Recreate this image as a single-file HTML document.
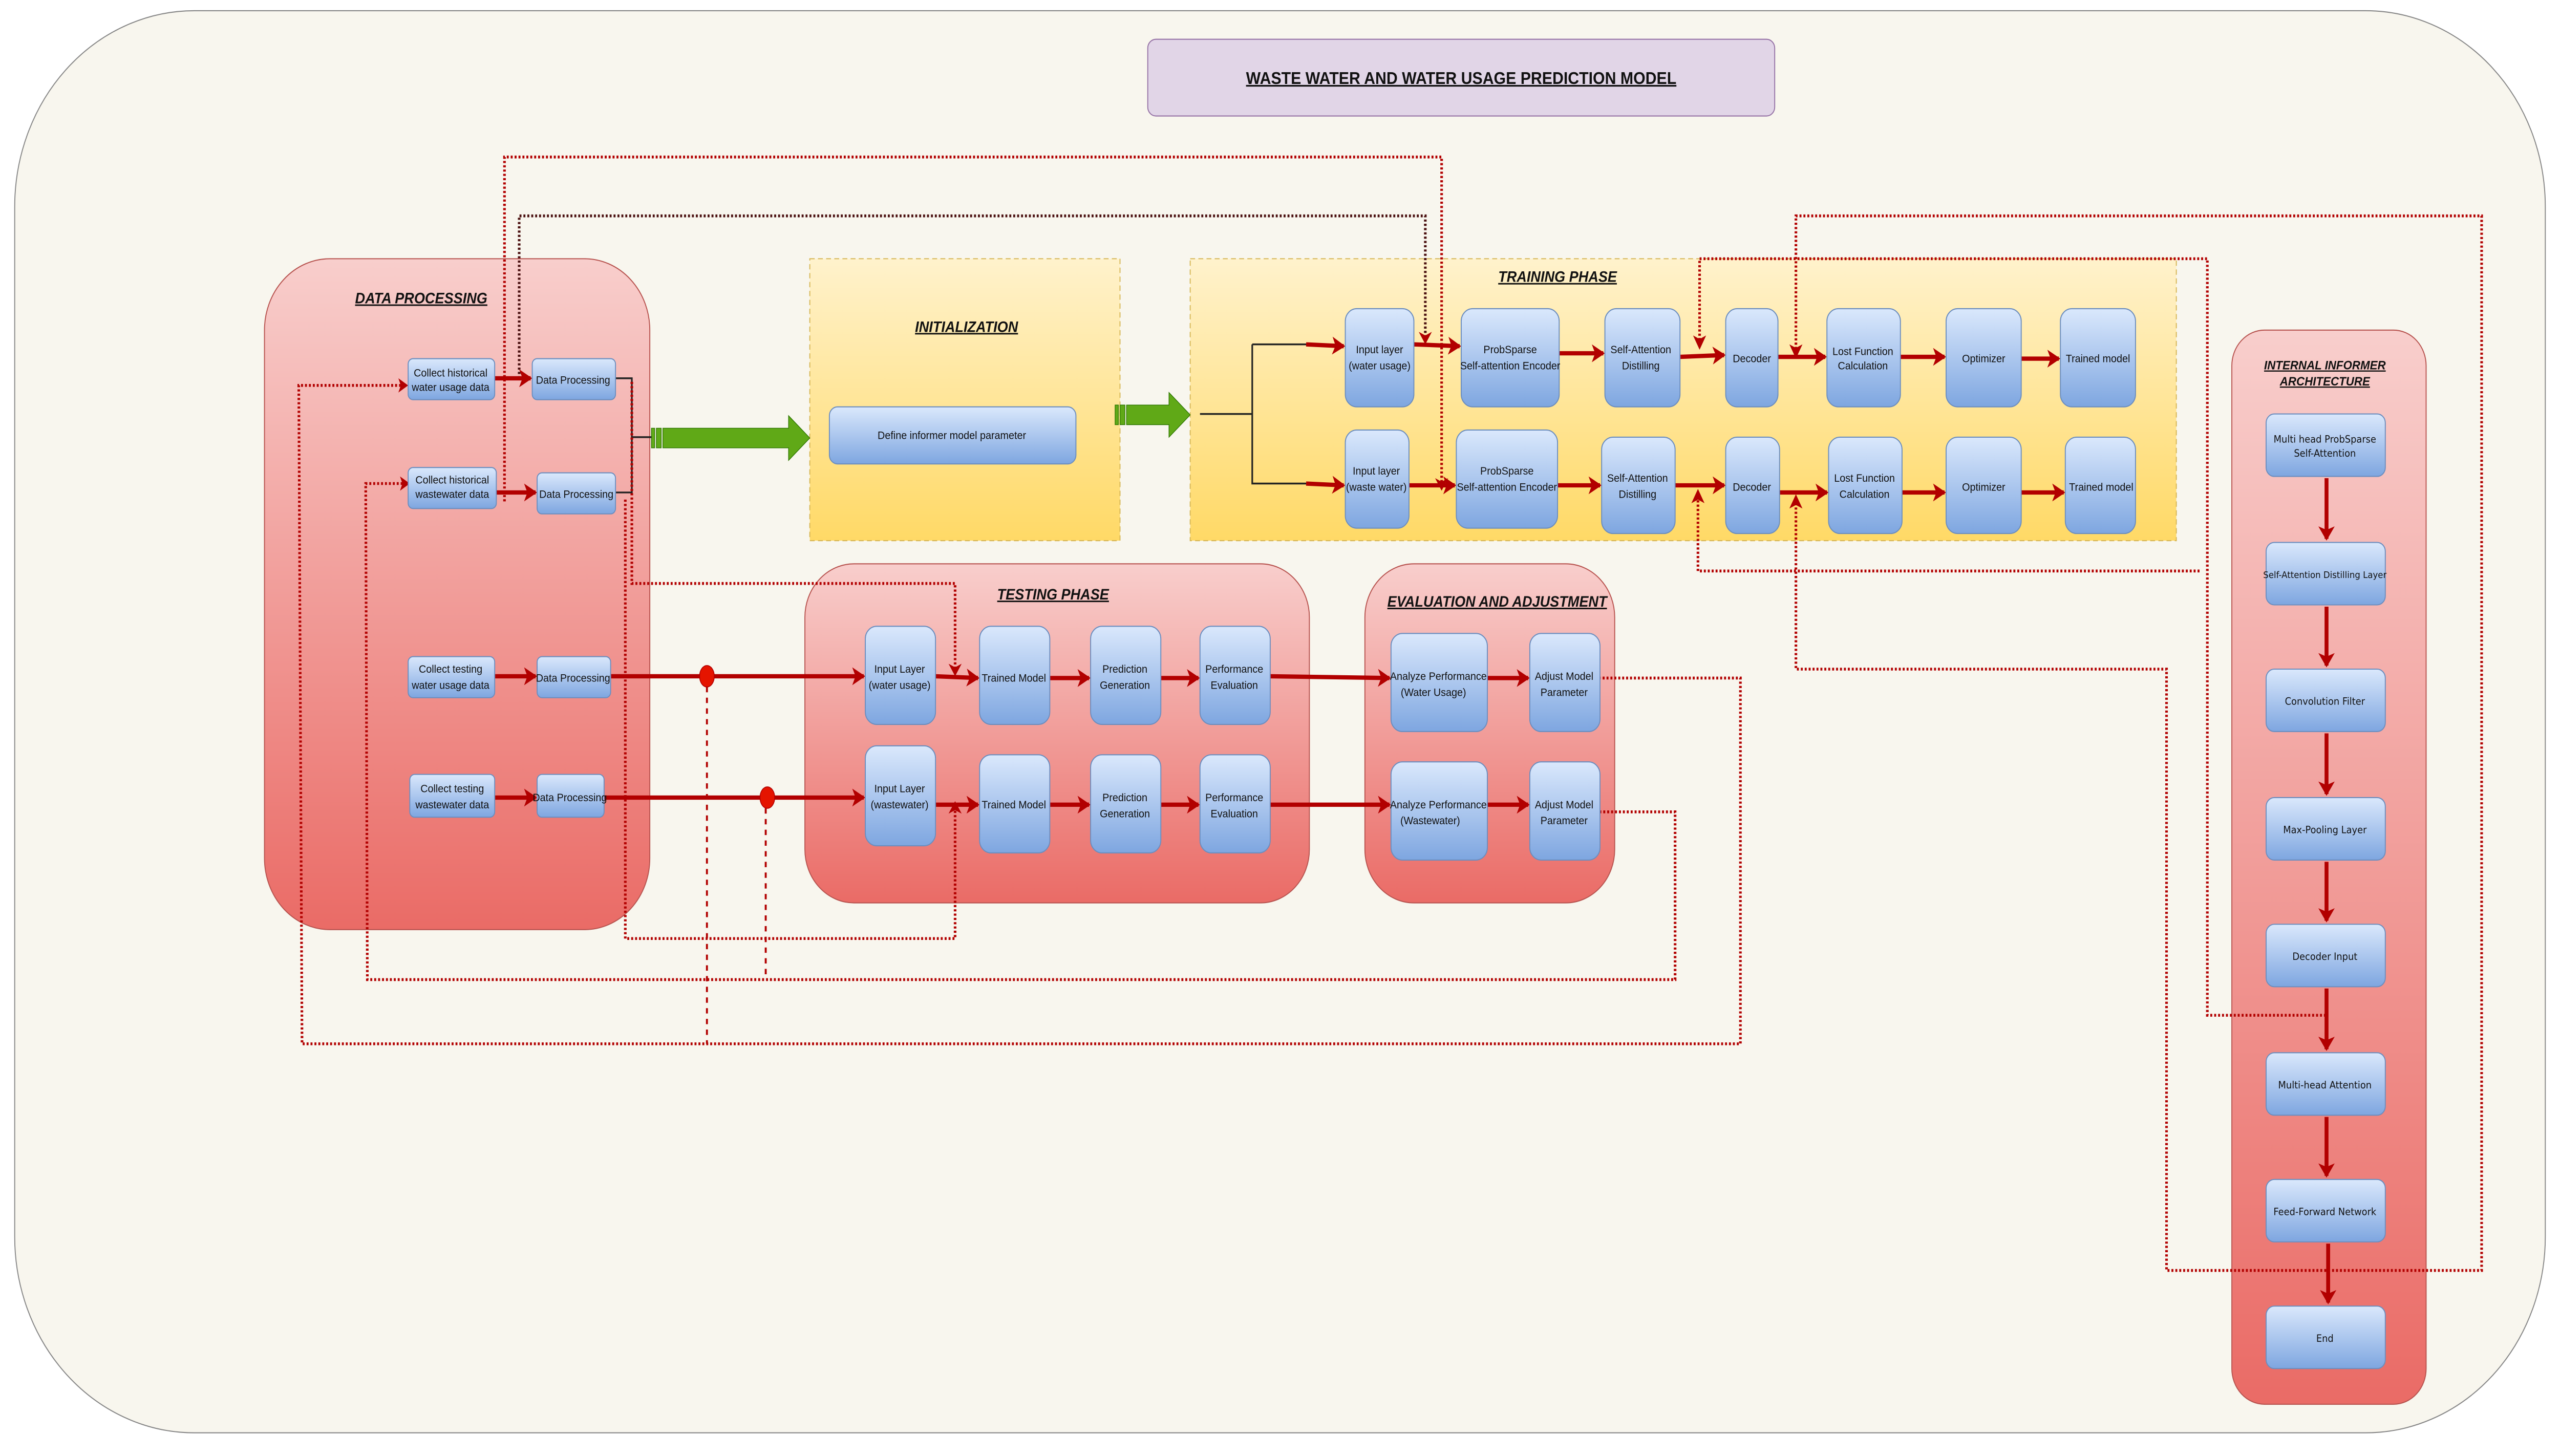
<!DOCTYPE html>
<html><head><meta charset="utf-8"><style>
html,body{margin:0;padding:0;background:#fff;width:100vw;height:100vh;overflow:hidden;}
svg{display:block;width:100vw;height:100vh;}
text{font-family:"Liberation Sans Narrow","Liberation Sans",sans-serif;fill:#111;}
.t{font-size:6.2px;text-anchor:middle;}
.h{font-size:8.5px;font-weight:bold;font-style:italic;text-decoration:underline;text-anchor:middle;}
.v{font-family:"DejaVu Sans",sans-serif;font-size:5.6px;text-anchor:middle;}
.n{fill:url(#gb);stroke:#6c8ebf;stroke-width:0.6;}
.ar{stroke:#b20000;stroke-width:2.4;fill:none;}
.d{stroke:#b20000;stroke-width:1.6;fill:none;stroke-dasharray:1.2 1.2;}
.dl{stroke:#b20000;stroke-width:1.2;fill:none;stroke-dasharray:3 3;}
</style></head><body>
<svg viewBox="0 0 1568 816" preserveAspectRatio="none" xmlns="http://www.w3.org/2000/svg">
<defs>
<linearGradient id="gb" x1="0" y1="0" x2="0" y2="1"><stop offset="0" stop-color="#dae8fc"/><stop offset="1" stop-color="#7ea6e0"/></linearGradient>
<linearGradient id="gr" x1="0" y1="0" x2="0" y2="1"><stop offset="0" stop-color="#f8cecc"/><stop offset="1" stop-color="#ea6b66"/></linearGradient>
<linearGradient id="gy" x1="0" y1="0" x2="0" y2="1"><stop offset="0" stop-color="#fff2cc"/><stop offset="1" stop-color="#ffd966"/></linearGradient>
<marker id="m" markerUnits="userSpaceOnUse" markerWidth="10" markerHeight="10" refX="7" refY="5" orient="auto"><path d="M0,0 L8,5 L0,10 L2,5 Z" fill="#b20000"/></marker>
</defs>
<rect x="0" y="0" width="1568" height="816" fill="#ffffff"/>
<rect x="9" y="6" width="1550" height="797" rx="110" fill="#f8f6ee" stroke="#888" stroke-width="0.6"/>
<rect x="703" y="22" width="384" height="43" rx="5" fill="#e1d5e7" stroke="#9673a6" stroke-width="0.6"/>
<text class="h" x="895" y="47" style="font-style:normal;font-size:9.5px">WASTE WATER AND WATER USAGE PREDICTION MODEL</text>

<rect x="162" y="145" width="236" height="376" rx="40" fill="url(#gr)" stroke="#b85450" stroke-width="0.6"/>
<text class="h" x="258" y="170">DATA PROCESSING</text>
<rect x="496" y="145" width="190" height="158" fill="url(#gy)" stroke="#d6b656" stroke-width="0.6" stroke-dasharray="3 2"/>
<text class="h" x="592" y="186">INITIALIZATION</text>
<rect x="729" y="145" width="604" height="158" fill="url(#gy)" stroke="#d6b656" stroke-width="0.6" stroke-dasharray="3 2"/>
<text class="h" x="954" y="158">TRAINING PHASE</text>
<rect x="493" y="316" width="309" height="190" rx="30" fill="url(#gr)" stroke="#b85450" stroke-width="0.6"/>
<text class="h" x="645" y="336">TESTING PHASE</text>
<rect x="836" y="316" width="153" height="190" rx="30" fill="url(#gr)" stroke="#b85450" stroke-width="0.6"/>
<text class="h" x="917" y="340">EVALUATION AND ADJUSTMENT</text>
<rect x="1367" y="185" width="119" height="602" rx="20" fill="url(#gr)" stroke="#b85450" stroke-width="0.6"/>
<text class="h" x="1424" y="207" style="font-size:7px">INTERNAL INFORMER</text>
<text class="h" x="1424" y="216" style="font-size:7px">ARCHITECTURE</text>

<g fill="#60a917" stroke="#2d7600" stroke-width="0.4">
<rect x="399" y="240" width="2" height="11"/><rect x="402" y="240" width="3" height="11"/>
<path d="M406,240 L483,240 L483,233 L496,245.5 L483,258 L483,251 L406,251 Z"/>
<rect x="683" y="227" width="2" height="11"/><rect x="686" y="227" width="3" height="11"/>
<path d="M690,227 L716,227 L716,220 L729,232.5 L716,245 L716,238 L690,238 Z"/>
</g>

<path d="M377,212 L387,212 L387,276 L377,276 M387,245 L399,245" stroke="#222" stroke-width="1" fill="none"/>
<path d="M735,232 L767,232 M767,193 L767,271 L800,271 M767,193 L800,193" stroke="#222" stroke-width="1" fill="none"/>

<path class="d" d="M309,281 L309,88 L883,88 L883,272"/>
<path class="d" d="M318,212 L318,121 L873,121 L873,190" style="stroke:#4a1010"/>
<path class="d" d="M1100,198 L1100,121 L1520,121 L1520,712 L1327,712 L1327,375 L1100,375 L1100,282"/>
<path class="d" d="M1041,193 L1041,145 L1352,145 L1352,569 L1424,569"/>
<path class="d" d="M1040,278 L1040,320 L1348,320"/>
<path class="d" d="M387,214 L387,327 L585,327 L585,376"/>
<path class="d" d="M383,280 L383,526 L585,526 L585,452"/>
<path class="d" d="M248,216 L183,216 L185,585 L1066,585 L1066,380 L980,380"/>
<path class="d" d="M249,271 L224,271 L225,549 L1026,549 L1026,455 L980,455"/>
<path class="dl" d="M433,379 L433,585"/>
<path class="dl" d="M469,447 L469,546"/>
<g fill="#b20000">
<path d="M250,216 L244,212 L245.5,216 L244,220 Z"/>
<path d="M251,271 L245,267 L246.5,271 L245,275 Z"/>
<path d="M873,193 L869,186 L873,188 L877,186 Z"/>
<path d="M883,275 L879,268 L883,270 L887,268 Z"/>
<path d="M1041,196 L1037,188 L1041,190 L1045,188 Z"/>
<path d="M1100,201 L1096,193 L1100,195 L1104,193 Z"/>
<path d="M1040,274 L1036,282 L1040,280 L1044,282 Z"/>
<path d="M1100,277 L1096,285 L1100,283 L1104,285 Z"/>
<path d="M585,379 L581,372 L585,374 L589,372 Z"/>
<path d="M585,449 L581,456 L585,454 L589,456 Z"/>
</g>

<g class="ar" marker-end="url(#m)">
<path d="M303,212 L325,212"/><path d="M304,276 L328,276"/>
<path d="M303,379 L328,379"/><path d="M303,447 L328,447"/>
<path d="M374,379 L529,379"/><path d="M370,447 L529,447"/>
<path d="M800,193 L823,194"/><path d="M800,271 L823,272"/>
<path d="M866,193 L894,194"/><path d="M955,198 L982,198"/><path d="M1029,200 L1056,199"/><path d="M1089,200 L1118,200"/><path d="M1164,200 L1191,200"/><path d="M1238,201 L1261,201"/>
<path d="M863,272 L891,272"/><path d="M954,272 L980,272"/><path d="M1026,272 L1056,272"/><path d="M1090,276 L1119,276"/><path d="M1165,276 L1191,276"/><path d="M1238,276 L1264,276"/>
<path d="M573,379 L599,380"/><path d="M643,380 L667,380"/><path d="M711,380 L734,380"/><path d="M778,379 L851,380"/><path d="M911,380 L936,380"/>
<path d="M573,451 L599,451"/><path d="M643,451 L667,451"/><path d="M711,451 L734,451"/><path d="M778,451 L851,451"/><path d="M911,451 L936,451"/>
<path d="M1425,268 L1425,302"/><path d="M1425,340 L1425,373"/><path d="M1425,411 L1425,445"/><path d="M1425,483 L1425,516"/><path d="M1425,554 L1425,588"/><path d="M1425,626 L1425,659"/><path d="M1426,697 L1426,730"/>
</g>
<ellipse cx="433" cy="379" rx="4.5" ry="6" fill="#e51400" stroke="#b20000" stroke-width="0.5"/>
<ellipse cx="470" cy="447" rx="4.5" ry="6" fill="#e51400" stroke="#b20000" stroke-width="0.5"/>

<rect class="n" x="250" y="201" width="53" height="23" rx="3"/><text class="t" x="276" y="211">Collect historical</text><text class="t" x="276" y="219">water usage data</text>
<rect class="n" x="326" y="201" width="51" height="23" rx="3"/><text class="t" x="351" y="215">Data Processing</text>
<rect class="n" x="250" y="262" width="54" height="23" rx="3"/><text class="t" x="277" y="271">Collect historical</text><text class="t" x="277" y="279">wastewater data</text>
<rect class="n" x="329" y="265" width="48" height="23" rx="3"/><text class="t" x="353" y="279">Data Processing</text>
<rect class="n" x="250" y="368" width="53" height="23" rx="3"/><text class="t" x="276" y="377">Collect testing</text><text class="t" x="276" y="386">water usage data</text>
<rect class="n" x="329" y="368" width="45" height="23" rx="3"/><text class="t" x="351" y="382">Data Processing</text>
<rect class="n" x="251" y="434" width="52" height="24" rx="3"/><text class="t" x="277" y="444">Collect testing</text><text class="t" x="277" y="453">wastewater data</text>
<rect class="n" x="329" y="434" width="41" height="24" rx="3"/><text class="t" x="349" y="449">Data Processing</text>
<rect class="n" x="508" y="228" width="151" height="32" rx="5"/><text class="t" x="583" y="246">Define informer model parameter</text>

<rect class="n" x="824" y="173" width="42" height="55" rx="7"/><text class="t" x="845" y="198">Input layer</text><text class="t" x="845" y="207">(water usage)</text>
<rect class="n" x="895" y="173" width="60" height="55" rx="7"/><text class="t" x="925" y="198">ProbSparse</text><text class="t" x="925" y="207">Self-attention Encoder</text>
<rect class="n" x="983" y="173" width="46" height="55" rx="7"/><text class="t" x="1005" y="198">Self-Attention</text><text class="t" x="1005" y="207">Distilling</text>
<rect class="n" x="1057" y="173" width="32" height="55" rx="7"/><text class="t" x="1073" y="203">Decoder</text>
<rect class="n" x="1119" y="173" width="45" height="55" rx="7"/><text class="t" x="1141" y="199">Lost Function</text><text class="t" x="1141" y="207">Calculation</text>
<rect class="n" x="1192" y="173" width="46" height="55" rx="7"/><text class="t" x="1215" y="203">Optimizer</text>
<rect class="n" x="1262" y="173" width="46" height="55" rx="7"/><text class="t" x="1285" y="203">Trained model</text>
<rect class="n" x="824" y="241" width="39" height="55" rx="7"/><text class="t" x="843" y="266">Input layer</text><text class="t" x="843" y="275">(waste water)</text>
<rect class="n" x="892" y="241" width="62" height="55" rx="7"/><text class="t" x="923" y="266">ProbSparse</text><text class="t" x="923" y="275">Self-attention Encoder</text>
<rect class="n" x="981" y="245" width="45" height="54" rx="7"/><text class="t" x="1003" y="270">Self-Attention</text><text class="t" x="1003" y="279">Distilling</text>
<rect class="n" x="1057" y="245" width="33" height="54" rx="7"/><text class="t" x="1073" y="275">Decoder</text>
<rect class="n" x="1120" y="245" width="45" height="54" rx="7"/><text class="t" x="1142" y="270">Lost Function</text><text class="t" x="1142" y="279">Calculation</text>
<rect class="n" x="1192" y="245" width="46" height="54" rx="7"/><text class="t" x="1215" y="275">Optimizer</text>
<rect class="n" x="1265" y="245" width="43" height="54" rx="7"/><text class="t" x="1287" y="275">Trained model</text>

<rect class="n" x="530" y="351" width="43" height="55" rx="7"/><text class="t" x="551" y="377">Input Layer</text><text class="t" x="551" y="386">(water usage)</text>
<rect class="n" x="600" y="351" width="43" height="55" rx="7"/><text class="t" x="621" y="382">Trained Model</text>
<rect class="n" x="668" y="351" width="43" height="55" rx="7"/><text class="t" x="689" y="377">Prediction</text><text class="t" x="689" y="386">Generation</text>
<rect class="n" x="735" y="351" width="43" height="55" rx="7"/><text class="t" x="756" y="377">Performance</text><text class="t" x="756" y="386">Evaluation</text>
<rect class="n" x="530" y="418" width="43" height="56" rx="7"/><text class="t" x="551" y="444">Input Layer</text><text class="t" x="551" y="453">(wastewater)</text>
<rect class="n" x="600" y="423" width="43" height="55" rx="7"/><text class="t" x="621" y="453">Trained Model</text>
<rect class="n" x="668" y="423" width="43" height="55" rx="7"/><text class="t" x="689" y="449">Prediction</text><text class="t" x="689" y="458">Generation</text>
<rect class="n" x="735" y="423" width="43" height="55" rx="7"/><text class="t" x="756" y="449">Performance</text><text class="t" x="756" y="458">Evaluation</text>

<rect class="n" x="852" y="355" width="59" height="55" rx="7"/><text class="t" x="881" y="381">Analyze Performance</text><text class="t" x="878" y="390">(Water Usage)</text>
<rect class="n" x="937" y="355" width="43" height="55" rx="7"/><text class="t" x="958" y="381">Adjust Model</text><text class="t" x="958" y="390">Parameter</text>
<rect class="n" x="852" y="427" width="59" height="55" rx="7"/><text class="t" x="881" y="453">Analyze Performance</text><text class="t" x="876" y="462">(Wastewater)</text>
<rect class="n" x="937" y="427" width="43" height="55" rx="7"/><text class="t" x="958" y="453">Adjust Model</text><text class="t" x="958" y="462">Parameter</text>

<rect class="n" x="1388" y="232" width="73" height="35" rx="5"/><text class="v" x="1424" y="248">Multi head ProbSparse</text><text class="v" x="1424" y="256">Self-Attention</text>
<rect class="n" x="1388" y="304" width="73" height="35" rx="5"/><text class="v" x="1424" y="324" style="font-size:5.2px">Self-Attention Distilling Layer</text>
<rect class="n" x="1388" y="375" width="73" height="35" rx="5"/><text class="v" x="1424" y="395">Convolution Filter</text>
<rect class="n" x="1388" y="447" width="73" height="35" rx="5"/><text class="v" x="1424" y="467">Max-Pooling Layer</text>
<rect class="n" x="1388" y="518" width="73" height="35" rx="5"/><text class="v" x="1424" y="538">Decoder Input</text>
<rect class="n" x="1388" y="590" width="73" height="35" rx="5"/><text class="v" x="1424" y="610">Multi-head Attention</text>
<rect class="n" x="1388" y="661" width="73" height="35" rx="5"/><text class="v" x="1424" y="681">Feed-Forward Network</text>
<rect class="n" x="1388" y="732" width="73" height="35" rx="5"/><text class="v" x="1424" y="752">End</text>
</svg>
</body></html>
